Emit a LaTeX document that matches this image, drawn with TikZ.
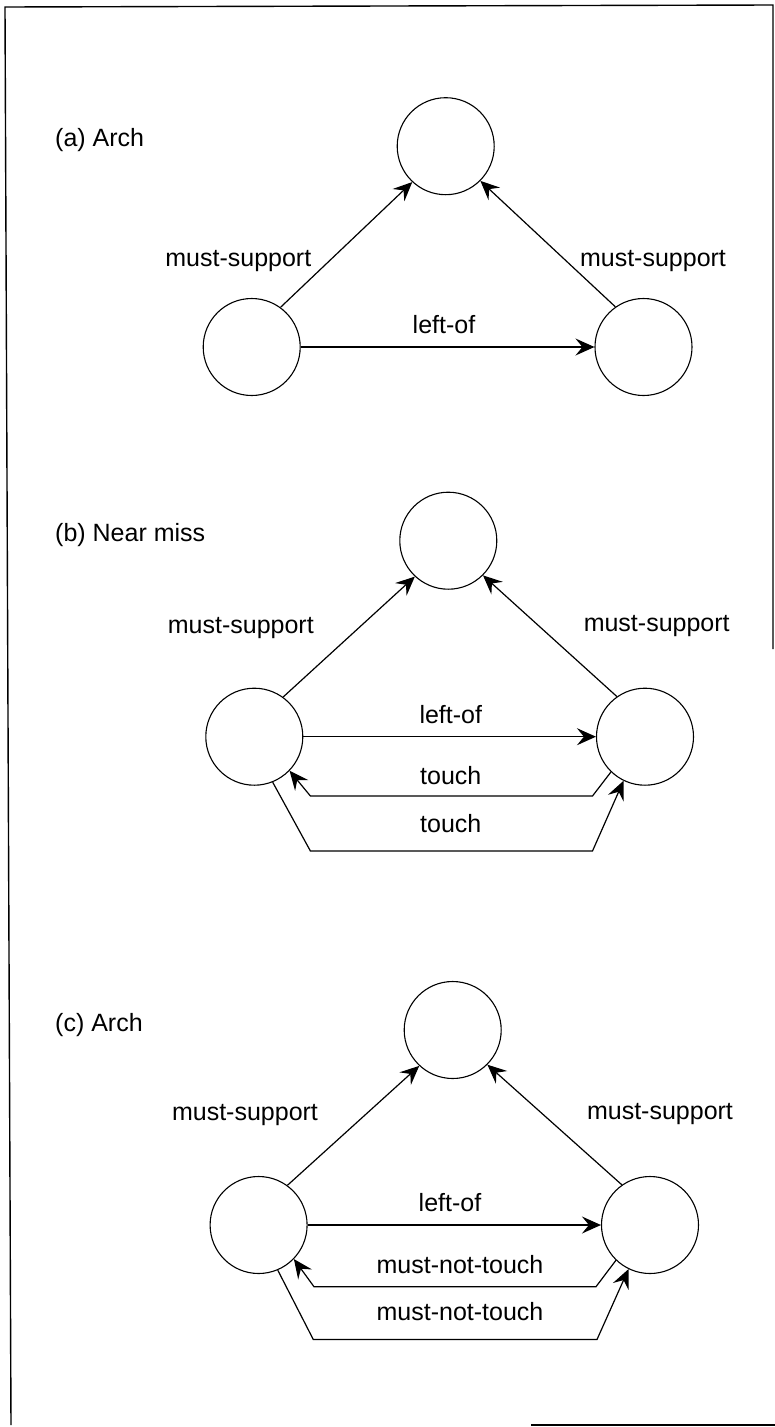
\documentclass[tikz,border=0pt]{standalone}
\usepackage{fontspec}
\setmainfont{Liberation Sans}
\usetikzlibrary{arrows.meta}
\begin{document}
\begin{tikzpicture}[x=1pt,y=-1pt,
  obj/.style={circle,draw,line width=1.1pt,minimum size=97pt,inner sep=0pt},
  lbl/.style={anchor=base,inner sep=0pt,font=\fontsize{25}{30}\selectfont},
  ttl/.style={anchor=base west,inner sep=0pt,font=\fontsize{25}{30}\selectfont},
  rel/.style={line width=1.2pt,-{Stealth[length=19pt,width=17pt,inset=7pt]}},
  frame/.style={line width=1.4pt}]
\useasboundingbox (0,0) rectangle (775,1427);
% frame
\coordinate (f1) at (5,7);
\coordinate (f2) at (773,5);
\coordinate (f3) at (773,649);
\coordinate (f4) at (11,1425);
\coordinate (f5) at (531,1425);
\coordinate (f6) at (775,1425);
\draw[frame] (f4) -- (f1) -- (f2) -- (f3);
\draw[frame] (f5) -- (f6);

% (a)
\node[ttl] (ta) at (55,146) {(a) Arch};
\node[obj] (Ta) at (445.7,146.2) {};
\node[obj] (La) at (251.7,347) {};
\node[obj] (Ra) at (643.5,347) {};
\draw[rel] (La.54) -- (Ta.227);
\draw[rel] (Ra.125) -- (Ta.315);
\draw[rel] (La) -- (Ra);
\node[lbl] (msla) at (238.3,266.7) {must-support};
\node[lbl] (msra) at (653,266) {must-support};
\node[lbl] (loa) at (444,333) {left-of};

% (b)
\node[ttl] (tb) at (55,541.7) {(b) Near miss};
\node[obj] (Tb) at (448.3,540.7) {};
\node[obj] (Lb) at (254.3,736.7) {};
\node[obj] (Rb) at (645,736.7) {};
\draw[rel] (Lb.54) -- (Tb.227);
\draw[rel] (Rb.125) -- (Tb.315);
\draw[rel] (Lb) -- (Rb);
\node[lbl] (mslb) at (240.8,633.3) {must-support};
\node[lbl] (msrb) at (656.7,631.7) {must-support};
\node[lbl] (lob) at (450.8,723.3) {left-of};
\node[lbl] (tub) at (450.8,784) {touch};
\node[lbl] (tlb) at (450.8,832.7) {touch};
\coordinate (b1) at (592.5,796);
\coordinate (b2) at (310.4,796);
\coordinate (b3) at (310.4,851);
\coordinate (b4) at (592.5,851);
\draw[rel] (Rb.226) -- (b1) -- (b2) -- (Lb.316);
\draw[rel] (Lb.292) -- (b3) -- (b4) -- (Rb.244);

% (c)
\node[ttl] (tc) at (55,1031) {(c) Arch};
\node[obj] (Tc) at (452.7,1030) {};
\node[obj] (Lc) at (258.6,1225) {};
\node[obj] (Rc) at (650,1225) {};
\draw[rel] (Lc.54) -- (Tc.227);
\draw[rel] (Rc.125) -- (Tc.315);
\draw[rel] (Lc) -- (Rc);
\node[lbl] (mslc) at (245,1120.7) {must-support};
\node[lbl] (msrc) at (660,1119) {must-support};
\node[lbl] (loc) at (450,1211.7) {left-of};
\node[lbl] (tuc) at (460,1273) {must-not-touch};
\node[lbl] (tlc) at (460,1320) {must-not-touch};
\coordinate (c1) at (596,1286.7);
\coordinate (c2) at (314,1286.7);
\coordinate (c3) at (313.3,1339.5);
\coordinate (c4) at (597,1339.5);
\draw[rel] (Rc.226) -- (c1) -- (c2) -- (Lc.316);
\draw[rel] (Lc.293) -- (c3) -- (c4) -- (Rc.244);
\end{tikzpicture}
\end{document}
